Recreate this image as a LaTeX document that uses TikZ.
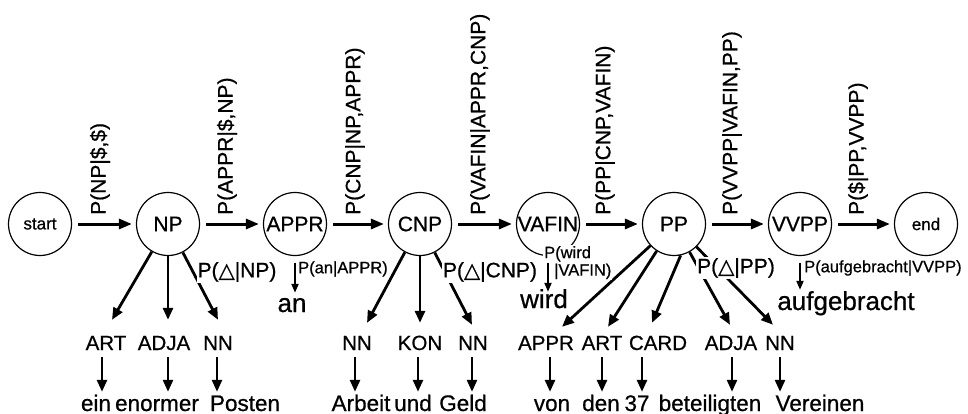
\documentclass[tikz,border=0pt]{standalone}
\usepackage{fontspec}
\setmainfont{Liberation Sans}[FakeBold=0.7]
\newfontfamily\symfont{DejaVu Sans}[FakeBold=0.7]
\usetikzlibrary{arrows.meta,calc}
\newcommand{\tri}{{\symfont △}}
\begin{document}
\begin{tikzpicture}[x=1pt,y=-1pt,
  st/.style={circle,draw,line width=1.2pt,minimum size=63pt,inner sep=0pt},
  cl/.style={font=\fontsize{21}{24}\selectfont,inner sep=0pt},
  se/.style={font=\fontsize{17}{20}\selectfont,inner sep=0pt},
  harr/.style={line width=3pt,-{Triangle[length=13pt,width=10pt]},shorten <=6pt,shorten >=4pt},
  darr/.style={line width=2.8pt,-{Triangle[length=12pt,width=10pt]}},
  varr/.style={line width=2.6pt,-{Triangle[length=12pt,width=10pt]}},
  sarr/.style={line width=2pt,-{Triangle[length=9pt,width=7pt]}},
  rl/.style={rotate=90,anchor=west,inner sep=0pt,font=\fontsize{21}{25}\selectfont},
  tag/.style={font=\fontsize{20.5}{24}\selectfont,anchor=base,inner sep=0pt,text height=15pt,text depth=0pt},
  wd/.style={font=\fontsize{22.5}{26}\selectfont,anchor=base,inner sep=0pt,text height=16pt,text depth=2pt},
  bw/.style={font=\fontsize{26}{30}\selectfont,anchor=base,inner sep=0pt,text height=13pt,text depth=0pt},
  dl/.style={font=\fontsize{21}{25}\selectfont,fill=white,inner sep=1pt},
  sl/.style={font=\fontsize{16.5}{17.5}\selectfont,inner sep=0pt}
]
\useasboundingbox (0,0) rectangle (968,414);

% state circles
\node[st,label={[se]center:start}] (start) at (40,224) {};
\node[st,label={[cl]center:NP}] (np) at (168,224) {};
\node[st,label={[cl]center:APPR}] (appr) at (295,224) {};
\node[st,label={[cl]center:CNP}] (cnp) at (420,224) {};
\node[st,label={[cl]center:VAFIN}] (vafin) at (548,224) {};
\node[st,label={[cl]center:PP}] (pp) at (674,224) {};
\node[st,label={[cl]center:VVPP}] (vvpp) at (800,224) {};
\node[st,label={[se]center:end}] (end) at (926,224) {};

% transitions
\draw[harr] (start) -- (np);
\draw[harr] (np) -- (appr);
\draw[harr] (appr) -- (cnp);
\draw[harr] (cnp) -- (vafin);
\draw[harr] (vafin) -- (pp);
\draw[harr] (pp) -- (vvpp);
\draw[harr] (vvpp) -- (end);

% transition labels
\node[rl] (l1) at (100,215) {P(NP|\$,\$)};
\node[rl] (l2) at (227,215) {P(APPR|\$,NP)};
\node[rl] (l3) at (355,215) {P(CNP|NP,APPR)};
\node[rl] (l4) at (480,215) {P(VAFIN|APPR,CNP)};
\node[rl] (l5) at (605,215) {P(PP|CNP,VAFIN)};
\node[rl] (l6) at (732,215) {P(VVPP|VAFIN,PP)};
\node[rl] (l7) at (858,215) {P(\$|PP,VVPP)};

% tags
\node[tag] (a1) at (106,350) {ART};
\node[tag] (a2) at (164,350) {ADJA};
\node[tag] (a3) at (218,350) {NN};
\node[tag] (b1) at (357,350) {NN};
\node[tag] (b2) at (420,350) {KON};
\node[tag] (b3) at (473,350) {NN};
\node[tag] (c1) at (546,350) {APPR};
\node[tag] (c2) at (602,350) {ART};
\node[tag] (c3) at (658,350) {CARD};
\node[tag] (c4) at (731,350) {ADJA};
\node[tag] (c5) at (780,350) {NN};

% words
\node[wd] (w1) at (96,411) {ein};
\node[wd] (w2) at (157,411) {enormer};
\node[wd] (w3) at (245,411) {Posten};
\node[wd] (w4) at (361,411) {Arbeit};
\node[wd] (w5) at (413,411) {und};
\node[wd] (w6) at (463,411) {Geld};
\node[wd] (w7) at (552,411) {von};
\node[wd] (w8) at (601,411) {den};
\node[wd] (w9) at (637,411) {37};
\node[wd] (w10) at (710,411) {beteiligten};
\node[wd] (w11) at (820,411) {Vereinen};

\node[bw] (wan) at (292,312) {an};
\node[bw] (wwird) at (544,308) {wird};
\node[bw] (wauf) at (846,310) {aufgebracht};

% expansion arrows
\draw[darr] (np) -- ($(a1.north)+(6,-15)$);
\draw[darr] (np) -- ($(a2.north)+(4,-15)$);
\draw[darr] (np) -- ($(a3.north)+(0,-15)$);
\draw[darr] (cnp) -- ($(b1.north)+(10,-12)$);
\draw[darr] (cnp) -- ($(b2.north)+(0,-12)$);
\draw[darr] (cnp) -- ($(b3.north)+(-1,-10)$);
\draw[darr] (pp) -- ($(c1.north)+(16,-8)$);
\draw[darr] (pp) -- ($(c2.north)+(6,-8)$);
\draw[darr] (pp.-78) -- ($(c3.north)+(-6,-12)$);
\draw[darr] (pp) -- ($(c4.north)+(-1,-10)$);
\draw[darr] (pp) -- ($(c5.north)+(-7,-10)$);

% tag -> word arrows
\draw[varr] ($(a1.south)+(-4,7)$) -- ($(a1.south |- w1.north)+(-4,-3)$);
\draw[varr] ($(a2.south)+(4,7)$) -- ($(a2.south |- w2.north)+(4,-3)$);
\draw[varr] ($(a3.south)+(-1,7)$) -- ($(a3.south |- w3.north)+(-1,-3)$);
\draw[varr] ($(b1.south)+(-2,7)$) -- ($(b1.south |- w4.north)+(-2,-3)$);
\draw[varr] ($(b2.south)+(-2,7)$) -- ($(b2.south |- w5.north)+(-2,-3)$);
\draw[varr] ($(b3.south)+(-1,7)$) -- ($(b3.south |- w6.north)+(-1,-3)$);
\draw[varr] ($(c1.south)+(4,7)$) -- ($(c1.south |- w7.north)+(4,-3)$);
\draw[varr] ($(c2.south)+(0,7)$) -- ($(c2.south |- w8.north)+(0,-3)$);
\draw[varr] ($(c3.south)+(-16,7)$) -- ($(c3.south |- w9.north)+(-16,-3)$);
\draw[varr] ($(c4.south)+(1,7)$) -- ($(c4.south |- w10.north)+(1,-3)$);
\draw[varr] ($(c5.south)+(0,7)$) -- ($(c5.south |- w11.north)+(0,-3)$);

% emission probability labels
\node[dl] (dnp) at (237,272) {P(\tri|NP)};
\node[dl] (dcnp) at (490,272) {P(\tri|CNP)};
\node[dl] (dpp) at (736,268) {P(\tri|PP)};

\node[sl,anchor=west] (pan) at (298,269) {P(an|APPR)};
\node[sl,anchor=north west,align=left,fill=white,inner sep=1pt] (pwird) at (543,245) {P(wird\\\hspace*{10pt}|VAFIN)};
\node[sl,anchor=west] (pauf) at (804,268) {P(aufgebracht|VVPP)};

% word emission arrows
\draw[sarr,shorten <=6.5pt,shorten >=6pt] (appr.south) -- (appr.south |- wan.north);
\draw[sarr,shorten <=6.5pt,shorten >=3pt] (vafin.south) -- (vafin.south |- wwird.north);
\draw[sarr,shorten <=6.5pt,shorten >=7pt] (vvpp.south) -- (vvpp.south |- wauf.north);
\end{tikzpicture}
\end{document}
